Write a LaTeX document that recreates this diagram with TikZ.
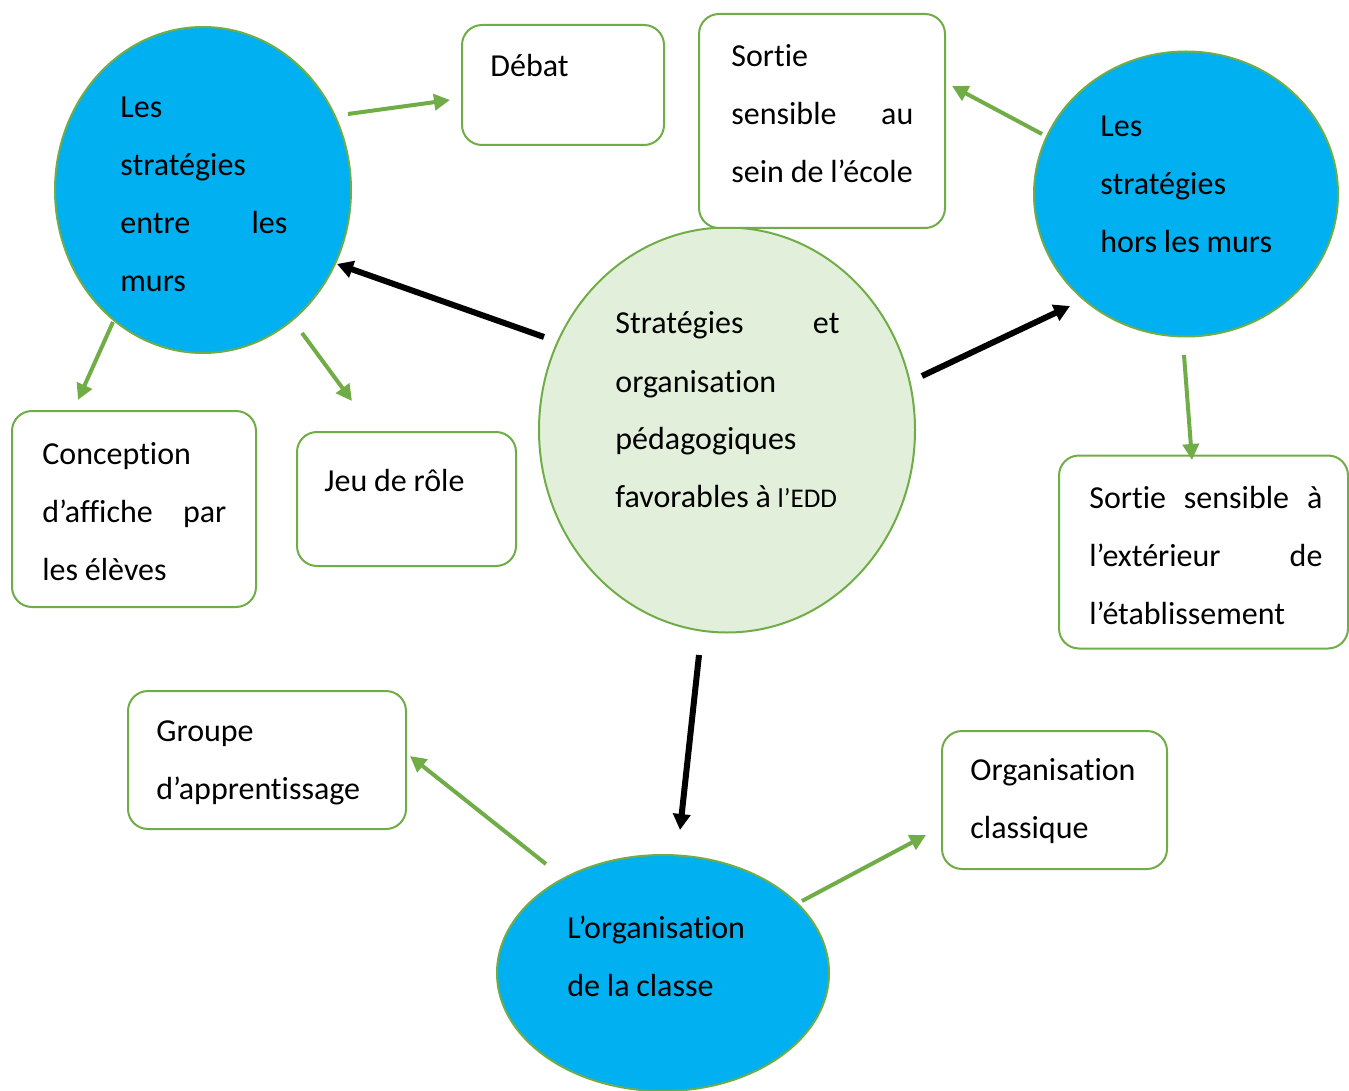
\documentclass[tikz,border=0pt]{standalone}
\usepackage{fontspec}
\setmainfont{Carlito}[Ligatures=CommonOff]
\usetikzlibrary{shapes.geometric,arrows.meta,calc}
\definecolor{cblue}{HTML}{00B0F0}
\definecolor{cgreen}{HTML}{70AD47}
\definecolor{clight}{HTML}{E2EFDA}
\newskip\myspc
\myspc=3.4pt plus 1pt minus 0.3pt
\begin{document}
\begin{tikzpicture}[x=0.5pt,y=-0.5pt,
 bub/.style={ellipse,draw=cgreen,line width=1pt,fill=cblue,inner sep=0pt},
 hub/.style={ellipse,draw=cgreen,line width=1pt,fill=clight,inner sep=0pt},
 box/.style={rectangle,rounded corners=10pt,draw=cgreen,line width=1pt,fill=white,inner sep=0pt},
 txt/.style={anchor=north west,inner sep=0pt,align=left,font=\fontsize{16}{29}\selectfont,
   execute at begin node={\spaceskip=\myspc}},
 garr/.style={draw=cgreen,line width=2pt,-{Triangle[length=8pt,width=8pt]}},
 karr/.style={draw=black,line width=3pt,-{Triangle[length=8pt,width=8.5pt]}}]
\useasboundingbox[fill=white] (0,0) rectangle (1349,1091);

% shapes
\node[bub,minimum width=148pt,minimum height=163pt] (L) at (203,190) {};
\node[bub,minimum width=152pt,minimum height=142.5pt] (R) at (1186,194) {};
\node[bub,minimum width=166pt,minimum height=118pt] (B) at (663,973) {};
\node[hub,minimum width=188pt,minimum height=202.5pt] (C) at (727,430) {};

\node[box,minimum width=101pt,minimum height=60pt] (Debat) at (563,85) {};
\node[box,minimum width=123pt,minimum height=107pt] (Sein) at (822,121) {};
\node[box,minimum width=122pt,minimum height=98pt] (Conc) at (134,509) {};
\node[box,minimum width=109.5pt,minimum height=67pt] (Jeu) at (406.5,499) {};
\node[box,minimum width=144.5pt,minimum height=96.5pt] (Ext) at (1203.5,552) {};
\node[box,minimum width=139pt,minimum height=69pt] (Grp) at (267,760) {};
\node[box,minimum width=112.5pt,minimum height=69pt] (Org) at (1054.5,800) {};

% texts
\node[txt,text width=83.5pt] (tL) at (120,77) {\strut Les\\stratégies\\entre\hfill les\\murs};
\node[txt,text width=95pt] (tR) at (1100,96) {\strut Les\\stratégies\\\mbox{hors les murs}};
\node[txt,text width=100pt] (tB) at (567,897) {\strut L’organisation\\de la classe};
\node[txt,text width=112pt] (tC) at (615,293) {\strut Stratégies\hfill et\\organisation\\pédagogiques\\\mbox{favorables à {\fontsize{13.5}{29}\selectfont l’EDD}}};
\node[txt,text width=90pt] (tDebat) at (490,36) {\strut Débat};
\node[txt,text width=91pt] (tSein) at (731,26) {\strut Sortie\\sensible\hfill au\\\mbox{sein de l’école}};
\node[txt,text width=92pt] (tConc) at (42,423) {\strut Conception\\d’affiche\hfill par\\les élèves};
\node[txt,text width=95pt] (tJeu) at (324,450) {\strut Jeu de rôle};
\node[txt,text width=116.5pt] (tExt) at (1089,467) {\strut Sortie\hfill sensible\hfill à\\l’extérieur\hfill de\\l’établissement};
\node[txt,text width=115pt] (tGrp) at (156,700) {\strut Groupe\\d’apprentissage};
\node[txt,text width=95pt] (tOrg) at (970,739) {\strut Organisation\\classique};

% connectors
\draw[garr] ($(L)+(145,-76)$) -- ($(Debat)+(-113,15)$);
\draw[garr] ($(R)+(-144,-60)$) -- ($(Sein)+(130,-35)$);
\draw[karr] ($(C)+(-183,-93)$) -- ($(L)+(134,74)$);
\draw[karr] ($(C)+(195,-54)$) -- ($(R)+(-116,112)$);
\draw[garr] ($(L)+(-90,132)$) -- ($(Conc)+(-56,-109)$);
\draw[garr] ($(L)+(99,143)$) -- ($(Jeu)+(-54.5,-98)$);
\draw[garr] ($(R)+(-2,161)$) -- ($(Ext)+(-11.5,-92)$);
\draw[karr] ($(C)+(-28,225)$) -- ($(B)+(17,-143)$);
\draw[garr] ($(B)+(-117,-109)$) -- ($(Grp)+(143,-4)$);
\draw[garr] ($(B)+(139,-72)$) -- ($(Org)+(-128.5,35)$);
\end{tikzpicture}
\end{document}
